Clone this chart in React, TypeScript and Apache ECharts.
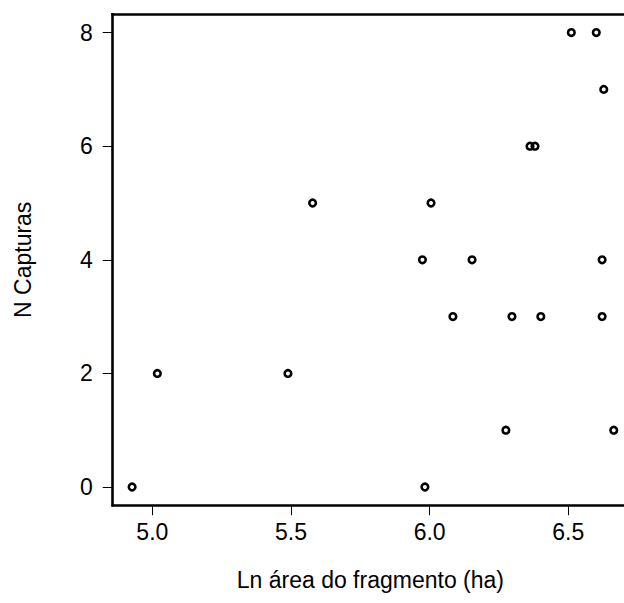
import React, { useEffect, useRef } from "react";
import * as echarts from "echarts";

// Ln area of fragment (ha) and number of captures
const lnArea: number[] = [
  4.927, 5.018, 5.489, 5.578, 5.974, 5.983, 6.005, 6.084, 6.153, 6.275,
  6.297, 6.362, 6.38, 6.401, 6.511, 6.601, 6.622, 6.622, 6.628, 6.664,
];
const nCapturas: number[] = [
  0, 2, 2, 5, 4, 0, 5, 3, 4, 1,
  3, 6, 6, 3, 8, 8, 4, 3, 7, 1,
];
const xTicks: number[] = [5.0, 5.5, 6.0, 6.5];
const yTicks: number[] = [0, 2, 4, 6, 8];

const xTitle = "Ln área do fragmento (ha)";
const yTitle = "N Capturas";

const FONT = "'Liberation Sans', Arial, Helvetica, sans-serif";

export default function App() {
  const ref = useRef<HTMLDivElement>(null);

  useEffect(() => {
    if (!ref.current) return;
    const chart = echarts.init(ref.current, undefined, { renderer: "svg" });
    const boxLine = { color: "#000", width: 2.6, cap: "square" as const };
    const xMin = 4.857;
    const xMax = 6.701;
    chart.setOption({
      animation: false,
      backgroundColor: "#fff",
      grid: { left: 112.7, right: 0, top: 14.4, bottom: 97.8, containLabel: false },
      xAxis: [
        {
          type: "value",
          position: "bottom",
          min: xMin,
          max: xMax,
          name: xTitle,
          nameLocation: "middle",
          nameGap: 63,
          nameTextStyle: { color: "#000", fontSize: 23, fontFamily: FONT, padding: [0, 0, 0, 4] },
          axisLine: { show: true, onZero: false, lineStyle: boxLine },
          axisTick: {
            show: true,
            length: 10,
            customValues: xTicks,
            lineStyle: { color: "#000", width: 1 },
          },
          axisLabel: {
            show: true,
            customValues: xTicks,
            margin: 15,
            color: "#000",
            fontSize: 23,
            fontFamily: FONT,
            formatter: (v: number) => v.toFixed(1),
          },
          splitLine: { show: false },
        },
        {
          type: "value",
          position: "top",
          min: xMin,
          max: xMax,
          axisLine: { show: true, onZero: false, lineStyle: boxLine },
          axisTick: { show: false },
          axisLabel: { show: false },
          splitLine: { show: false },
        },
      ],
      yAxis: {
        type: "value",
        min: -0.32,
        max: 8.32,
        name: yTitle,
        nameLocation: "middle",
        nameGap: 78,
        nameTextStyle: { color: "#000", fontSize: 23, fontFamily: FONT },
        axisLine: { show: true, onZero: false, lineStyle: boxLine },
        axisTick: {
          show: true,
          length: 10,
          customValues: yTicks,
          lineStyle: { color: "#000", width: 1 },
        },
        axisLabel: {
          show: true,
          customValues: yTicks,
          margin: 20,
          color: "#000",
          fontSize: 23,
          fontFamily: FONT,
        },
        splitLine: { show: false },
      },
      series: [
        {
          type: "scatter",
          xAxisIndex: 0,
          data: lnArea.map((x, i) => [x, nCapturas[i]]),
          symbol: "circle",
          symbolSize: 6.6,
          itemStyle: { color: "rgba(255,255,255,0)", borderColor: "#000", borderWidth: 2.6, opacity: 1 },
          emphasis: { disabled: true },
        },
      ],
    });
    return () => chart.dispose();
  }, []);

  return (
    <div
      ref={ref}
      style={{ position: "fixed", left: 0, top: 0, width: 624, height: 603, background: "#fff" }}
    />
  );
}
